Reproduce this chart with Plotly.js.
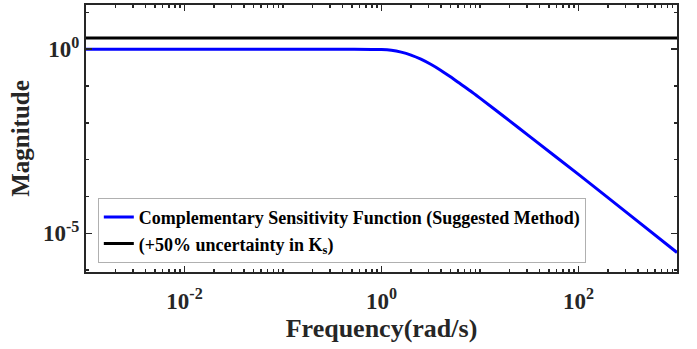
<!DOCTYPE html>
<html>
<head>
<meta charset="utf-8">
<script src="https://cdn.plot.ly/plotly-3.0.1.min.js"></script>
<style>html,body{margin:0;padding:0;background:#fff;}#chart{width:697px;height:349px;}</style>
</head>
<body>
<div id="chart"></div>
<script>
// Frequency samples (rad/s) and magnitudes
const freqT = [0.001, 0.01, 0.1, 0.5, 1, 1.259, 1.585, 1.995, 2.512, 3.162, 3.981, 5.012, 6.31, 7.943, 10, 17.78, 31.62, 100, 316.2, 1000];
const magT  = [1, 1, 1, 1, 0.977, 0.933, 0.832, 0.692, 0.537, 0.389, 0.269, 0.178, 0.115, 0.0741, 0.0468, 0.01445, 0.004365, 3.98e-4, 3.47e-5, 3.02e-6];
const freqU = [0.001, 1000];
const magU  = [2, 2];
const seriesNames = ['Complementary Sensitivity Function (Suggested Method)', '(+50% uncertainty in K<sub>s</sub>)'];
const xTickVals = [0.01, 1, 100];
const xTickText = ['10<sup>-2</sup>', '10<sup>0</sup>', '10<sup>2</sup>'];
const yTickVals = [1e-5, 1];
const yTickText = ['10<sup>-5</sup>', '10<sup>0</sup>'];

const fontFam = 'Liberation Serif, Times New Roman, serif';
const axColor = '#262626';

const traces = [
  {x: freqT, y: magT, mode: 'lines', name: seriesNames[0], line: {color: '#0000ff', width: 3, shape: 'spline', smoothing: 0.8}},
  {x: freqU, y: magU, mode: 'lines', name: seriesNames[1], line: {color: '#000000', width: 3}}
];

const layout = {
  width: 697, height: 349,
  margin: {l: 86, r: 20, t: 5, b: 77},
  paper_bgcolor: '#fff', plot_bgcolor: '#fff',
  font: {family: fontFam, color: axColor, size: 20},
  showlegend: true,
  legend: {
    x: 0.02, y: 0.034, xanchor: 'left', yanchor: 'bottom',
    bgcolor: '#fff', bordercolor: '#b0b0b0', borderwidth: 1,
    font: {family: fontFam, size: 18, color: '#000', weight: 'bold'},
    tracegroupgap: 0, itemwidth: 30
  },
  xaxis: {
    type: 'log', range: [-3, 3],
    tickmode: 'array', tickvals: xTickVals, ticktext: xTickText,
    ticks: 'inside', ticklen: 6, tickwidth: 1.5, tickcolor: axColor,
    minor: {ticks: 'inside', ticklen: 3, tickwidth: 1.5, tickcolor: axColor, dtick: 'D1'},
    showline: true, linecolor: axColor, linewidth: 2, mirror: 'allticks',
    showgrid: false, zeroline: false,
    tickfont: {family: fontFam, size: 23, color: axColor, weight: 'bold'},
    ticklabelstandoff: 7,
    title: {text: 'Frequency(rad/s)', font: {family: fontFam, size: 26, color: axColor, weight: 'bold'}, standoff: 2}
  },
  yaxis: {
    type: 'log', range: [-6.05, 1.2],
    tickmode: 'array', tickvals: yTickVals, ticktext: yTickText,
    ticks: 'inside', ticklen: 6, tickwidth: 1.5, tickcolor: axColor,
    minor: {ticks: 'inside', ticklen: 3, tickwidth: 1.5, tickcolor: axColor, dtick: 1},
    showline: true, linecolor: axColor, linewidth: 2, mirror: 'allticks',
    showgrid: false, zeroline: false,
    tickfont: {family: fontFam, size: 23, color: axColor, weight: 'bold'},
    ticklabelstandoff: 0,
    title: {text: 'Magnitude', font: {family: fontFam, size: 25, color: axColor, weight: 'bold'}, standoff: 6}
  }
};

Plotly.newPlot('chart', traces, layout, {staticPlot: true, displayModeBar: false});
</script>
</body>
</html>
